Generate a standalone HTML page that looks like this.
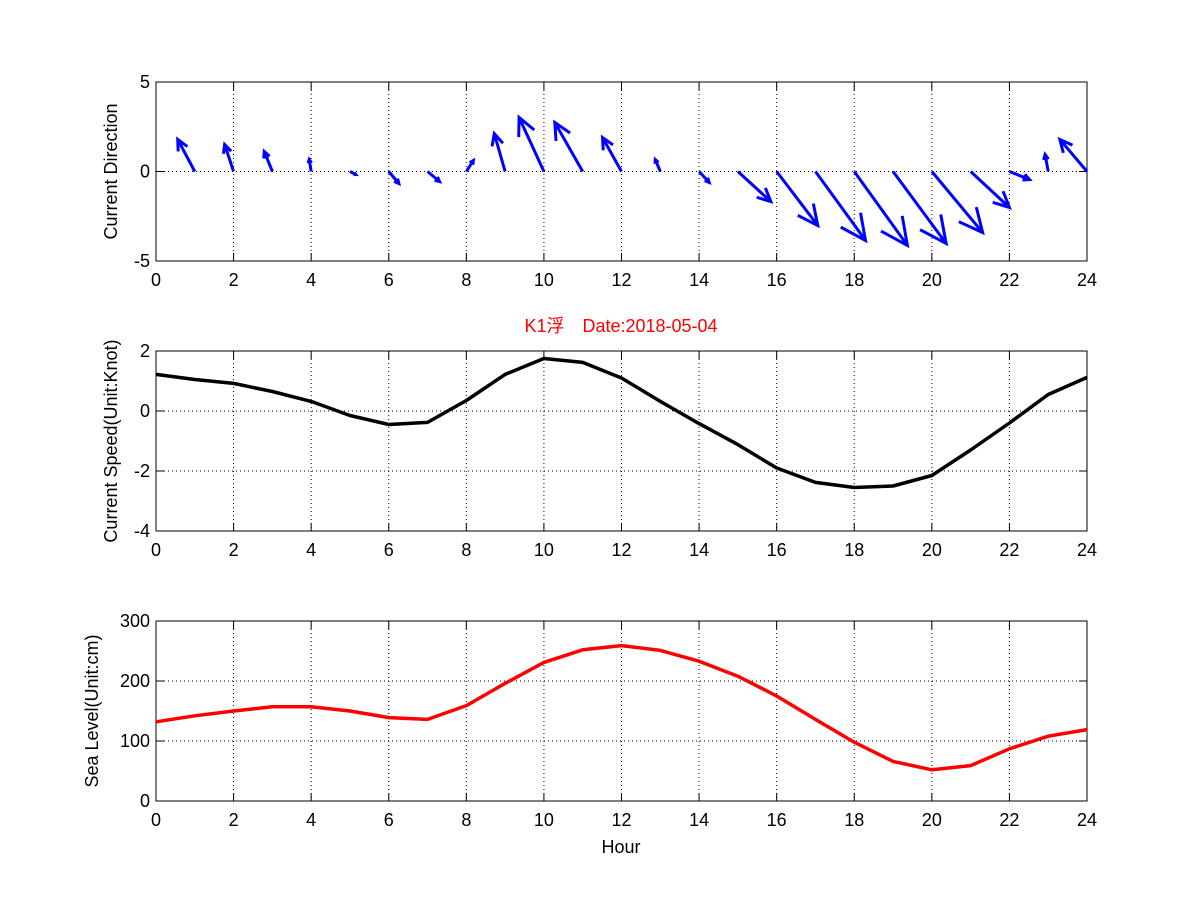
<!DOCTYPE html>
<html><head><meta charset="utf-8"><style>body{margin:0;background:#fff}svg{display:block}text{font-family:"Liberation Sans","Noto Sans CJK SC",sans-serif;font-size:18px}</style></head>
<body>
<svg id="c" width="1201" height="901"></svg>
<script>
const hours=[0,1,2,3,4,5,6,7,8,9,10,11,12,13,14,15,16,17,18,19,20,21,22,23,24];
const dirU=[-0.44,-0.23,-0.21,-0.05,0.15,0.26,0.31,0.18,-0.28,-0.64,-0.72,-0.49,-0.13,0.26,0.85,1.06,1.29,1.37,1.37,1.31,1.0,0.52,-0.08,-0.7];
const dirV=[1.79,1.51,1.12,0.67,-0.17,-0.67,-0.56,0.61,2.12,3.02,2.74,1.9,0.67,-0.61,-1.68,-3.02,-3.85,-4.13,-4.02,-3.41,-2.01,-0.45,0.95,1.79];
const speed=[1.22,1.05,0.92,0.65,0.32,-0.15,-0.45,-0.38,0.35,1.22,1.75,1.62,1.1,0.32,-0.42,-1.12,-1.9,-2.38,-2.55,-2.5,-2.15,-1.3,-0.4,0.55,1.12];
const sea=[132,142,150,157,157,150,139,136,159,196,231,252,259,251,233,208,175,136,98,66,52,59,87,108,119];
const xTicks=[0,2,4,6,8,10,12,14,16,18,20,22,24];
const yTicks1=[-5,0,5],yTicks2=[-4,-2,0,2],yTicks3=[0,100,200,300];
const svg=document.getElementById('c');const NS='http://www.w3.org/2000/svg';
function mk(t,a,p){const e=document.createElementNS(NS,t);for(const k in a)e.setAttribute(k,a[k]);(p||svg).appendChild(e);return e;}
const X0=156,X1=1087;const sx=h=>X0+(X1-X0)*h/24;
const panels=[{top:82,bot:261,min:-5,max:5,ticks:yTicks1,label:'Current Direction',name:'direction'},
{top:351,bot:531,min:-4,max:2,ticks:yTicks2,label:'Current Speed(Unit:Knot)',name:'speed'},
{top:621,bot:801,min:0,max:300,ticks:yTicks3,label:'Sea Level(Unit:cm)',name:'sea-level'}];
panels.forEach(p=>{
 p.sy=v=>p.bot-(p.bot-p.top)*(v-p.min)/(p.max-p.min);
 const g=mk('g',{});
 xTicks.forEach(t=>{const x=sx(t);
  if(t>0&&t<24){const l=mk('line',{x1:x,x2:x,y1:p.top,y2:p.bot,stroke:'#000','stroke-width':1,'stroke-dasharray':'1,3'},g);}
  mk('line',{x1:x,x2:x,y1:p.bot,y2:p.bot-8,stroke:'#000'},g);mk('line',{x1:x,x2:x,y1:p.top,y2:p.top+8,stroke:'#000'},g);
  const tx=mk('text',{x:x,y:p.bot+25,'text-anchor':'middle'},g);tx.textContent=t;});
 p.ticks.forEach(t=>{const y=p.sy(t);
  if(t>p.min&&t<p.max){const l=mk('line',{x1:X0,x2:X1,y1:y,y2:y,stroke:'#000','stroke-width':1,'stroke-dasharray':'1,3'},g);}
  mk('line',{x1:X0,x2:X0+8,y1:y,y2:y,stroke:'#000'},g);mk('line',{x1:X1,x2:X1-8,y1:y,y2:y,stroke:'#000'},g);
  const tx=mk('text',{x:X0-6,y:y+6,'text-anchor':'end'},g);tx.textContent=t;});
 const r=mk('rect',{x:X0,y:p.top,width:X1-X0,height:p.bot-p.top,fill:'none',stroke:'#000'},g);
 const cy=(p.top+p.bot)/2,cx=p.name==='sea-level'?98:117;
 const yl=mk('text',{x:cx,y:cy,'text-anchor':'middle',transform:`rotate(-90 ${cx} ${cy})`},g);yl.textContent=p.label;
});
// quiver
const P1=panels[0],ppu=(X1-X0)/24,ppv=(P1.bot-P1.top)/10;
dirU.forEach((u,i)=>{const h=i+1;const bx=sx(h),by=P1.sy(0);const tx=bx+u*ppu,ty=by-dirV[i]*ppv;
 const dx=tx-bx,dy=ty-by,L=Math.hypot(dx,dy);if(L<0.1)return;const ang=Math.atan2(dy,dx),hl=L*0.33,a=0.45;
 const d=`M${bx},${by}L${tx},${ty}M${tx-hl*Math.cos(ang-a)},${ty-hl*Math.sin(ang-a)}L${tx},${ty}L${tx-hl*Math.cos(ang+a)},${ty-hl*Math.sin(ang+a)}`;
 const e=mk('path',{d:d,stroke:'#0000ff','stroke-width':3,fill:'none'});});
function line(p,vals,col,name){const d=vals.map((v,i)=>(i?'L':'M')+sx(hours[i])+','+p.sy(v)).join('');
 const e=mk('path',{d:d,stroke:col,'stroke-width':3.5,fill:'none','stroke-linejoin':'round'});}
line(panels[1],speed,'#000','speed-line');line(panels[2],sea,'#ff0000','sea-level-line');
const t=mk('text',{x:621,y:332,'text-anchor':'middle',fill:'#ff0000'});t.textContent='K1浮\u3000Date:2018-05-04';
const xl=mk('text',{x:621,y:853,'text-anchor':'middle'});xl.textContent='Hour';
</script>
</body></html>
